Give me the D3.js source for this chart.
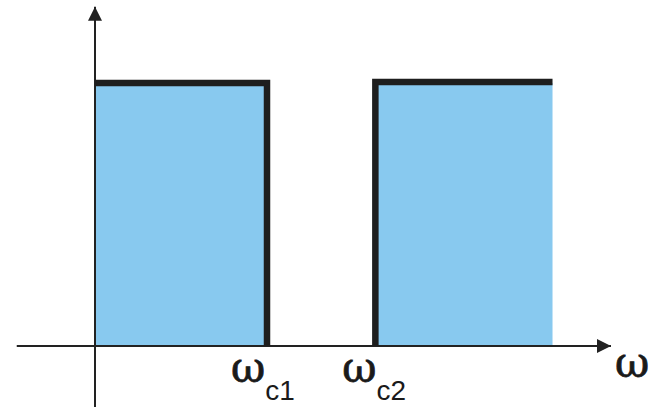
<!DOCTYPE html>
<html>
<head>
<meta charset="utf-8">
<script src="https://cdn.jsdelivr.net/npm/d3@7"></script>
<style>
  html, body { margin: 0; padding: 0; background: #fff; }
  svg { display: block; }
</style>
</head>
<body>
<div id="chart"></div>
<script>
// band-stop response: passbands below wc1 and above wc2
const cutoffs = [1, 1.63];            // wc1, wc2
const bands = [[0, 1], [1.63, 2.66]];  // [start, end] of each passband
const gain = 1;
const cutoffLabels = ["c1", "c2"];
const axisLabel = "ω";

const width = 654, height = 407;

const x = d3.scaleLinear().domain([0, 1]).range([95, 267]);
const y = d3.scaleLinear().domain([0, 1]).range([346, 83]);

const svg = d3.select("#chart").append("svg")
    .attr("width", width)
    .attr("height", height);

svg.append("defs").append("marker")
    .attr("id", "arrow")
    .attr("viewBox", "0 -5 10 10")
    .attr("refX", 10)
    .attr("refY", 0)
    .attr("markerUnits", "userSpaceOnUse")
    .attr("markerWidth", 17)
    .attr("markerHeight", 14)
    .attr("orient", "auto")
  .append("path")
    .attr("fill", "#222")
    .attr("d", "M0,-5L10,0L0,5Z");

// fills
svg.append("g")
  .selectAll("rect")
  .data(bands)
  .join("rect")
    .attr("x", d => x(d[0]))
    .attr("y", y(gain))
    .attr("width", d => x(d[1]) - x(d[0]))
    .attr("height", y(0) - y(gain))
    .attr("fill", "#88c9ef");

// axes
svg.append("line")
    .attr("x1", x(-0.455)).attr("x2", x(3.0))
    .attr("y1", y(0)).attr("y2", y(0))
    .attr("stroke", "#222").attr("stroke-width", 2)
    .attr("marker-end", "url(#arrow)");

svg.append("line")
    .attr("x1", x(0)).attr("x2", x(0))
    .attr("y1", y(-0.24)).attr("y2", y(1.29))
    .attr("stroke", "#222").attr("stroke-width", 2)
    .attr("marker-end", "url(#arrow)");

// thick outlines of the passbands
const outline = [
  [[x(bands[0][0]), y(gain)], [x(bands[0][1]), y(gain)], [x(bands[0][1]), y(0)]],
  [[x(bands[1][0]), y(0)], [x(bands[1][0]), y(gain) - 1], [x(bands[1][1]), y(gain) - 1]]
];
svg.append("g")
  .selectAll("path")
  .data(outline)
  .join("path")
    .attr("d", d3.line())
    .attr("fill", "none")
    .attr("stroke", "#1e1e1e")
    .attr("stroke-width", 6.5)
    .attr("stroke-linejoin", "miter");

// cutoff labels
const lab = svg.append("g")
  .selectAll("text")
  .data(cutoffs)
  .join("text")
    .attr("x", (d, i) => x(d) - (i === 0 ? 36 : 33))
    .attr("y", 382)
    .attr("fill", "#1a1a1a");
lab.append("tspan")
    .attr("font-family", "DejaVu Serif, serif")
    .attr("font-size", 42)
    .attr("stroke", "#1a1a1a")
    .attr("stroke-width", 0.8)
    .text("ω");
lab.append("tspan")
    .attr("font-family", "Liberation Sans, Arial, sans-serif")
    .attr("font-size", 28)
    .attr("dy", 18)
    .text((d, i) => cutoffLabels[i]);

svg.append("text")
    .attr("x", 615)
    .attr("y", 377)
    .attr("font-family", "DejaVu Serif, serif")
    .attr("font-size", 42)
    .attr("fill", "#1a1a1a")
    .attr("stroke", "#1a1a1a")
    .attr("stroke-width", 0.8)
    .text(axisLabel);
</script>
</body>
</html>
